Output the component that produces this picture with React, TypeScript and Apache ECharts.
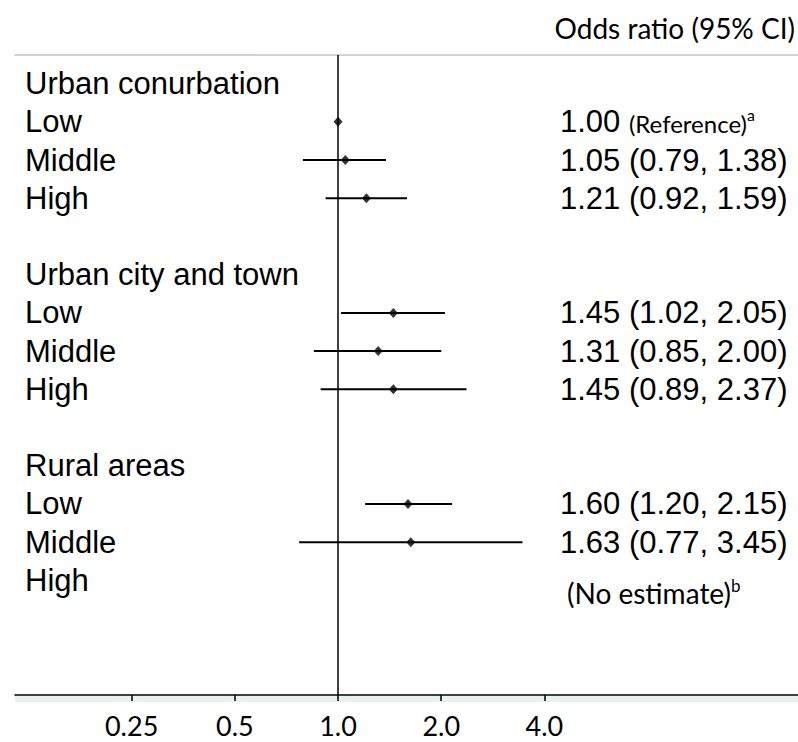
import React, { useEffect, useRef } from 'react';
import * as echarts from 'echarts';

// ---- data ----
const groups = ['Urban conurbation', 'Urban city and town', 'Rural areas'];
const levels = ['Low', 'Middle', 'High'];
const oddsRatio: (number | null)[] = [1.0, 1.05, 1.21, 1.45, 1.31, 1.45, 1.6, 1.63, null];
const ciLower: (number | null)[] = [null, 0.79, 0.92, 1.02, 0.85, 0.89, 1.2, 0.77, null];
const ciUpper: (number | null)[] = [null, 1.38, 1.59, 2.05, 2.0, 2.37, 2.15, 3.45, null];
const tickValues = [0.25, 0.5, 1, 2, 4];
const tickLabels = ['0.25', '0.5', '1.0', '2.0', '4.0'];
const headerText = 'Odds ratio (95% CI)';
const referenceNote = '(Reference)';
const referenceMark = 'a';
const missingNote = '(No estimate)';
const missingMark = 'b';

// ---- layout helpers ----
const X_MIN = -3.13;
const X_MAX = 4.457;
const Y_MIN = -0.75;
const Y_MAX = 16;

const rowLabels: Record<number, string> = {};
const rowOfEstimate: number[] = [];
groups.forEach((g, gi) => {
  rowLabels[gi * 5] = g;
  levels.forEach((l, li) => {
    const k = gi * 5 + 1 + li;
    rowLabels[k] = l;
    rowOfEstimate.push(k);
  });
});
const leftKeys = Object.keys(rowLabels).map(Number);

const fmt = (v: number) => v.toFixed(2);
const rightLabels: Record<number, string> = {};
rowOfEstimate.forEach((k, i) => {
  const o = oddsRatio[i];
  const lo = ciLower[i];
  const hi = ciUpper[i];
  if (o == null) {
    rightLabels[k] = `{ne|${missingNote}}{supb|${missingMark}}`;
  } else if (lo == null || hi == null) {
    rightLabels[k] = `{num|${fmt(o)} }{ref|${referenceNote}}{sup|${referenceMark}}`;
  } else {
    rightLabels[k] = `{num|${fmt(o)} (${fmt(lo)}, ${fmt(hi)})}`;
  }
});
const rightKeys = Object.keys(rightLabels).map(Number);

const pointData: number[][] = [];
const ciData: number[][] = [];
rowOfEstimate.forEach((k, i) => {
  const o = oddsRatio[i];
  if (o != null) pointData.push([Math.log2(o), k]);
  const lo = ciLower[i];
  const hi = ciUpper[i];
  if (lo != null && hi != null) ciData.push([Math.log2(lo), Math.log2(hi), k]);
});

const ARIAL = '"Liberation Sans", Arial, sans-serif';
const CALIBRI = 'Lato, "Open Sans", sans-serif';

export default function App() {
  const ref = useRef<HTMLDivElement>(null);
  useEffect(() => {
    document.body.style.margin = '0';
    const chart = echarts.init(ref.current!, null, { renderer: 'svg' });
    const tickLogs = tickValues.map((t) => Math.log2(t));
    chart.setOption({
      animation: false,
      backgroundColor: '#ffffff',
      grid: { left: 15, right: 0, top: 55, bottom: 47, containLabel: false },
      xAxis: [
        {
          type: 'value',
          min: X_MIN,
          max: X_MAX,
          position: 'bottom',
          axisLine: { show: true, onZero: false, lineStyle: { color: '#000', width: 1.5 } },
          axisTick: { show: true, length: 6, customValues: tickLogs, lineStyle: { color: '#000', width: 1.5 } },
          axisLabel: {
            customValues: tickLogs,
            formatter: (v: number) => {
              const idx = tickLogs.findIndex((t) => Math.abs(t - v) < 1e-6);
              return idx >= 0 ? tickLabels[idx] : '';
            },
            fontFamily: CALIBRI,
            fontSize: 27,
            color: '#000',
            margin: 17,
          },
          splitLine: { show: false },
        },
        {
          type: 'value',
          min: X_MIN,
          max: X_MAX,
          position: 'top',
          axisLine: { show: true, onZero: false, lineStyle: { color: '#c4c4c4', width: 1.5 } },
          axisTick: { show: false },
          axisLabel: { show: false },
          splitLine: { show: false },
        },
      ],
      yAxis: [
        {
          type: 'value',
          inverse: true,
          min: Y_MIN,
          max: Y_MAX,
          position: 'left',
          axisLine: { show: false, onZero: false },
          axisTick: { show: false },
          splitLine: { show: false },
          axisLabel: {
            inside: true,
            margin: 10,
            align: 'left',
            customValues: leftKeys,
            formatter: (v: number) => rowLabels[Math.round(v)] ?? '',
            fontFamily: ARIAL,
            fontSize: 31,
            color: '#000',
          },
        },
        {
          type: 'value',
          inverse: true,
          min: Y_MIN,
          max: Y_MAX,
          position: 'right',
          axisLine: { show: false, onZero: false },
          axisTick: { show: false },
          splitLine: { show: false },
          axisLabel: {
            inside: true,
            margin: 238,
            align: 'left',
            customValues: rightKeys,
            formatter: (v: number) => rightLabels[Math.round(v)] ?? '',
            fontFamily: ARIAL,
            fontSize: 31,
            color: '#000',
            rich: {
              num: { fontFamily: ARIAL, fontSize: 31, color: '#000', verticalAlign: 'bottom' },
              ref: { fontFamily: CALIBRI, fontSize: 24, color: '#000', verticalAlign: 'bottom', padding: [0, 0, 2, 0] },
              sup: { fontFamily: CALIBRI, fontSize: 16, color: '#000', verticalAlign: 'top' },
              ne: { fontFamily: CALIBRI, fontSize: 28, color: '#000', verticalAlign: 'bottom', padding: [26, 0, 0, 7] },
              supb: { fontFamily: CALIBRI, fontSize: 17, color: '#000', verticalAlign: 'top', padding: [24, 0, 0, 0] },
            },
          },
        },
      ],
      graphic: [
        {
          type: 'rect',
          shape: { x: 15, y: 696, width: 783, height: 6 },
          style: { fill: '#e9f1f3' },
          z: -1,
        },
        {
          type: 'text',
          x: 795,
          y: 28,
          style: {
            text: headerText,
            font: `28px ${CALIBRI}`,
            fill: '#000',
            align: 'right',
            verticalAlign: 'middle',
          },
        },
      ],
      series: [
        {
          type: 'custom',
          xAxisIndex: 0,
          yAxisIndex: 0,
          data: ciData,
          encode: { x: [0, 1], y: 2 },
          renderItem: (params: any, api: any) => {
            const a = api.coord([api.value(0), api.value(2)]);
            const b = api.coord([api.value(1), api.value(2)]);
            return {
              type: 'line',
              shape: { x1: a[0], y1: a[1], x2: b[0], y2: b[1] },
              style: { stroke: '#000', lineWidth: 2 },
            };
          },
          z: 3,
        },
        {
          type: 'scatter',
          xAxisIndex: 0,
          yAxisIndex: 0,
          data: pointData,
          symbol: 'diamond',
          symbolSize: [9, 10],
          itemStyle: { color: '#000' },
          z: 4,
          markLine: {
            silent: true,
            symbol: ['none', 'none'],
            label: { show: false },
            lineStyle: { color: '#000', width: 1.5, type: 'solid' },
            data: [{ xAxis: Math.log2(1) }],
          },
        },
      ],
    });
    return () => chart.dispose();
  }, []);
  return (
    <div
      ref={ref}
      style={{ position: 'fixed', left: 0, top: 0, width: 798, height: 742, background: '#fff' }}
    />
  );
}
